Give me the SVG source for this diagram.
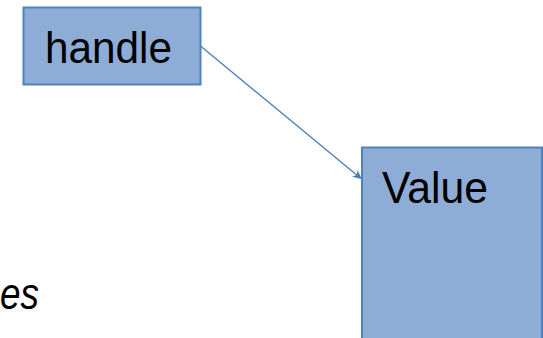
<svg xmlns="http://www.w3.org/2000/svg" width="543" height="338" viewBox="0 0 543 338">
<style>
.box{fill:#8eadd6;stroke:#4f81bd;stroke-width:2}
.lbl{font-family:"Liberation Sans",Arial,sans-serif;fill:#000}
.conn{fill:none;stroke:#4a7ebb;stroke-width:1.3}
</style>
<defs>
<marker id="arr" viewBox="0 0 10 10" refX="9" refY="5" markerWidth="9" markerHeight="9" orient="auto" markerUnits="userSpaceOnUse">
<path d="M0,0 L10,5 L0,10 L3,5 Z" fill="#4a7ebb"/>
</marker>
</defs>
<rect width="543" height="338" fill="#fff"/>
<g id="handle">
<rect class="box" x="23.5" y="7.5" width="177" height="77"/>
<text class="lbl" x="45" y="62.5" font-size="45" textLength="127" lengthAdjust="spacingAndGlyphs">handle</text>
</g>
<g id="value">
<rect class="box" x="362" y="147.5" width="180" height="200"/>
<text class="lbl" x="382" y="203" font-size="43.5" textLength="106" lengthAdjust="spacingAndGlyphs">Value</text>
</g>
<g id="caption">
<text x="0" y="309" font-family="Liberation Sans,Arial,sans-serif" font-style="italic" font-size="44" textLength="39" lengthAdjust="spacingAndGlyphs">es</text>
</g>
<g id="connectors">
<path class="conn" d="M200.5,46 L361,178.5" marker-end="url(#arr)"/>
</g>
</svg>
